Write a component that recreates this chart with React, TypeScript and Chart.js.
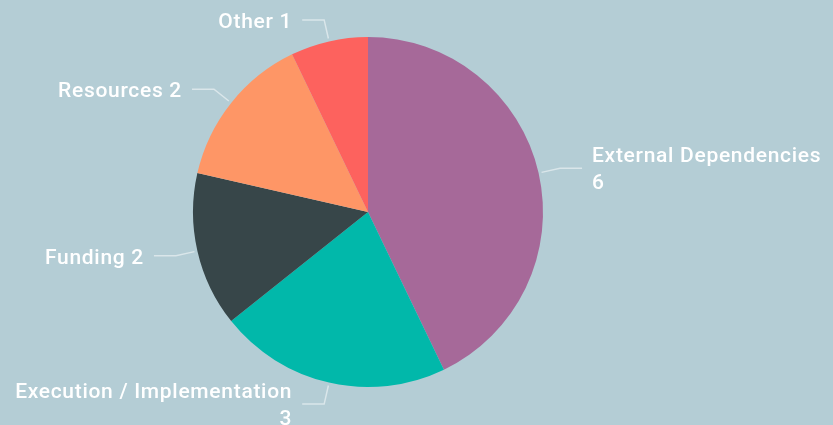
import React, { useEffect, useRef } from "react";
import { Chart, registerables } from "chart.js";

Chart.register(...registerables);

const categories = [
  "External Dependencies",
  "Execution / Implementation",
  "Funding",
  "Resources",
  "Other",
];
const counts = [6, 3, 2, 2, 1];
const sliceColors = ["#A66999", "#01B8AA", "#374649", "#FE9666", "#FD625E"];

const BG = "#B4CDD5";
const LABEL_FONT = "500 21px Roboto";
const LABEL_SPACING = "0.7px";
const WRAP_WIDTH = 220;
const LINE_HEIGHT = 27;

// Outside labels with bent leader lines: radial segment, then a short horizontal run.
const leaderLabels = {
  id: "leaderLabels",
  afterDatasetsDraw(chart: any) {
    const { ctx } = chart;
    const meta = chart.getDatasetMeta(0);
    const data = chart.data.datasets[0].data as number[];
    ctx.save();
    ctx.font = LABEL_FONT;
    (ctx as any).letterSpacing = LABEL_SPACING;
    meta.data.forEach((arc: any, i: number) => {
      const { x, y, startAngle, endAngle, outerRadius } = arc.getProps(
        ["x", "y", "startAngle", "endAngle", "outerRadius"],
        true
      );
      const mid = (startAngle + endAngle) / 2;
      const c = Math.cos(mid);
      const s = Math.sin(mid);
      const x0 = x + c * (outerRadius + 3);
      const y0 = y + s * (outerRadius + 3);
      const x1 = x + c * (outerRadius + 22);
      const y1 = y + s * (outerRadius + 22);
      const side = c >= 0 ? 1 : -1;
      const x2 = x1 + side * 22;

      ctx.strokeStyle = "rgba(255,255,255,0.5)";
      ctx.lineWidth = 1.5;
      ctx.beginPath();
      ctx.moveTo(x0, y0);
      ctx.lineTo(x1, y1);
      ctx.lineTo(x2, y1);
      ctx.stroke();

      const label = String(chart.data.labels[i]);
      const full = `${label} ${data[i]}`;
      const lines =
        ctx.measureText(full).width > WRAP_WIDTH ? [label, String(data[i])] : [full];
      const tx = x2 + side * 10;
      const cy = y1 + 2.5;
      const firstY = cy - ((lines.length - 1) * LINE_HEIGHT) / 2;
      ctx.fillStyle = "#FFFFFF";
      ctx.textAlign = side > 0 ? "left" : "right";
      ctx.textBaseline = "middle";
      lines.forEach((ln, k) => ctx.fillText(ln, tx, firstY + k * LINE_HEIGHT));
    });
    ctx.restore();
  },
};

export default function App() {
  const canvasRef = useRef<HTMLCanvasElement>(null);

  useEffect(() => {
    document.body.style.margin = "0";
    document.body.style.background = BG;
    const chart = new Chart(canvasRef.current!, {
      type: "pie",
      data: {
        labels: categories,
        datasets: [
          {
            data: counts,
            backgroundColor: sliceColors,
            borderWidth: 0,
          },
        ],
      },
      options: {
        responsive: false,
        animation: false,
        layout: { padding: { top: 37, bottom: 38, left: 0, right: 97 } },
        plugins: {
          legend: { display: false },
          tooltip: { enabled: false },
        },
      },
      plugins: [leaderLabels],
    });
    return () => chart.destroy();
  }, []);

  return (
    <div style={{ width: 833, height: 425, background: BG }}>
      <canvas ref={canvasRef} width={833} height={425} />
    </div>
  );
}
